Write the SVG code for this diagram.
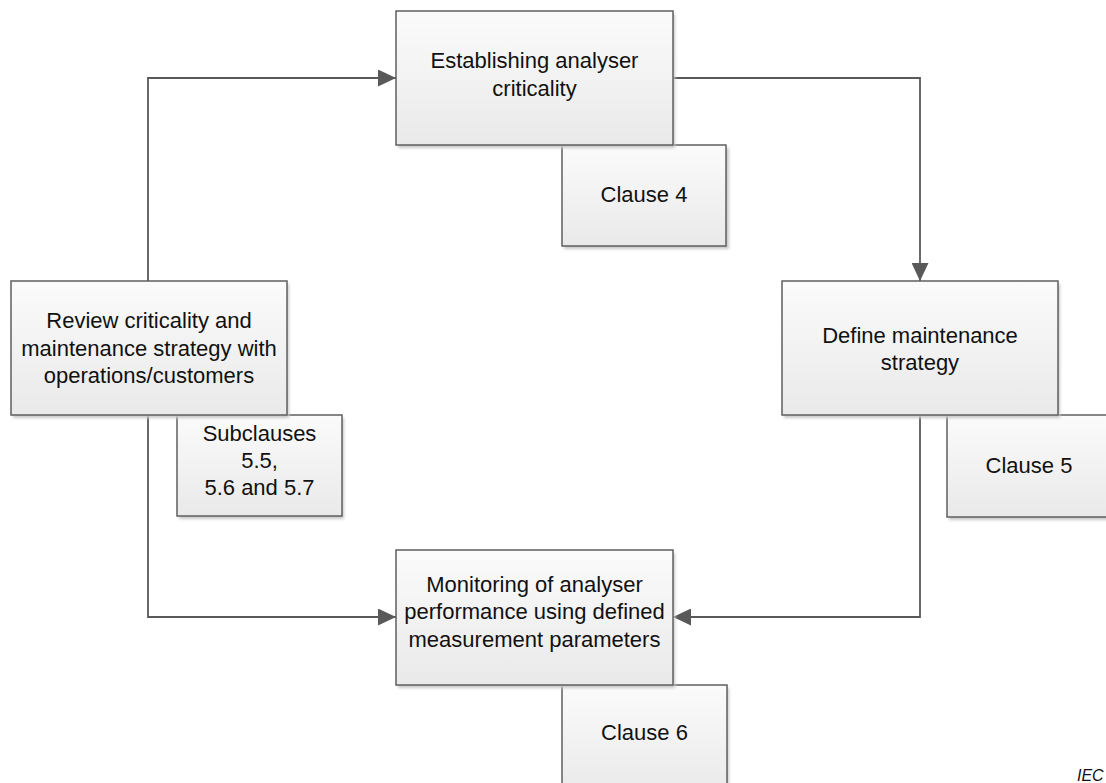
<svg xmlns="http://www.w3.org/2000/svg" width="1106" height="783" viewBox="0 0 1106 783">
<style>
.box{fill:url(#g);stroke:#5f5f5f;stroke-width:1.5}
.sh{fill:#c8c8c8;filter:url(#blur)}
.t{font-family:"Liberation Sans",Arial,sans-serif;font-size:22px;fill:#111;text-anchor:middle}
.c{fill:none;stroke:#595959;stroke-width:1.8}
</style>
<defs>
<linearGradient id="g" x1="0" y1="0" x2="0" y2="1">
<stop offset="0" stop-color="#fbfbfb"/>
<stop offset="1" stop-color="#e9e9e9"/>
</linearGradient>
<filter id="blur" x="-10%" y="-10%" width="120%" height="120%"><feGaussianBlur stdDeviation="1.5"/></filter>
<marker id="arr" viewBox="0 0 18 17" refX="18" refY="8.5" markerWidth="18" markerHeight="17" markerUnits="userSpaceOnUse" orient="auto">
<path d="M0,0 L18,8.5 L0,17 Z" fill="#595959"/>
</marker>
</defs>
<g id="connectors">
<path class="c" d="M148,281 V78 H396" marker-end="url(#arr)"/>
<path class="c" d="M673,78 H920 V281" marker-end="url(#arr)"/>
<path class="c" d="M920,415 V617 H673" marker-end="url(#arr)"/>
<path class="c" d="M148,415 V617 H396" marker-end="url(#arr)"/>
</g>
<g id="clause4">
<rect class="sh" x="564" y="148" width="165" height="101"/>
<rect class="box" x="562" y="145" width="164" height="101"/>
<text class="t" x="644" y="202">Clause 4</text>
</g>
<g id="establishing">
<rect class="sh" x="398" y="14" width="277" height="134"/>
<rect class="box" x="396" y="11" width="277" height="134"/>
<text class="t" x="534.5" y="68">Establishing analyser</text>
<text class="t" x="534.5" y="96">criticality</text>
</g>
<g id="subclauses">
<rect class="sh" x="179" y="418" width="165" height="101"/>
<rect class="box" x="177" y="415" width="165" height="101"/>
<text class="t" x="259.5" y="441">Subclauses</text>
<text class="t" x="259.5" y="468">5.5,</text>
<text class="t" x="259.5" y="495">5.6 and 5.7</text>
</g>
<g id="review">
<rect class="sh" x="13" y="284" width="276" height="134"/>
<rect class="box" x="11" y="281" width="276" height="134"/>
<text class="t" x="149" y="328">Review criticality and</text>
<text class="t" x="149" y="356">maintenance strategy with</text>
<text class="t" x="149" y="383">operations/customers</text>
</g>
<g id="clause5">
<rect class="sh" x="949" y="418" width="165" height="102"/>
<rect class="box" x="947" y="415" width="164" height="102"/>
<text class="t" x="1029" y="473">Clause 5</text>
</g>
<g id="define">
<rect class="sh" x="784" y="284" width="276" height="134"/>
<rect class="box" x="782" y="281" width="276" height="134"/>
<text class="t" x="920" y="343">Define maintenance</text>
<text class="t" x="920" y="370">strategy</text>
</g>
<g id="clause6">
<rect class="sh" x="564" y="688" width="165" height="110"/>
<rect class="box" x="562" y="685" width="165" height="110"/>
<text class="t" x="644.5" y="740">Clause 6</text>
</g>
<g id="monitoring">
<rect class="sh" x="398" y="553" width="277" height="135"/>
<rect class="box" x="396" y="550" width="277" height="135"/>
<text class="t" x="534.5" y="592">Monitoring of analyser</text>
<text class="t" x="534.5" y="619">performance using defined</text>
<text class="t" x="534.5" y="647">measurement parameters</text>
</g>
<text x="1077" y="781" style="font-family:'Liberation Sans',Arial,sans-serif;font-size:16px;font-style:italic;fill:#111">IEC</text>
</svg>
